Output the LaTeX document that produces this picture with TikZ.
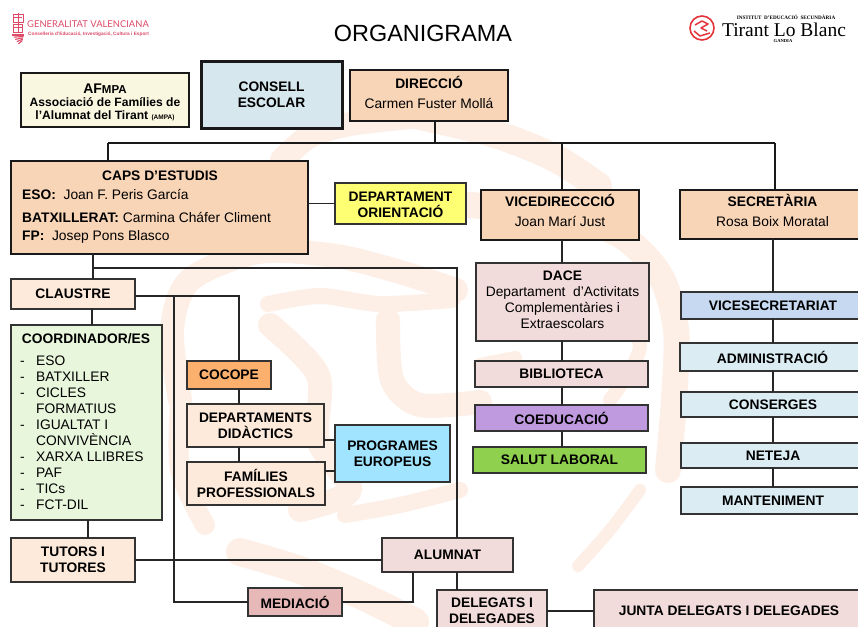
\documentclass[tikz,border=0pt]{standalone}
\usepackage{fontspec}
\setmainfont{Liberation Sans}
\newfontfamily\serifrm{Liberation Serif}
\newfontfamily\gvfont{Lato}
\definecolor{peach}{HTML}{F9D5B7}
\definecolor{cream}{HTML}{FDEADA}
\definecolor{rosa}{HTML}{F2DCDB}
\definecolor{ice}{HTML}{DBECF3}
\definecolor{wash}{HTML}{FDEEE6}
\definecolor{gvred}{HTML}{DD4B68}
\definecolor{logored}{HTML}{E5333B}
\definecolor{afcol}{HTML}{FAF7E0}
\definecolor{yelcol}{HTML}{FFFF73}
\definecolor{cocol}{HTML}{E8F6DC}
\definecolor{orcol}{HTML}{FBB06E}
\definecolor{eucol}{HTML}{A1E4FF}
\definecolor{mecol}{HTML}{E6B8B7}
\definecolor{coecol}{HTML}{C09ADE}
\definecolor{sacol}{HTML}{8FD14F}
\definecolor{vscol}{HTML}{C6D9F1}
\newcommand{\bt}[1]{{\bfseries #1}}
\newcommand{\dep}[1]{\rule[-#1pt]{0pt}{#1pt}}
\tikzset{
  wh/.style 2 args={minimum width=#1pt,minimum height=#2pt},
  box/.style={draw=black!80,line width=1.5pt,outer sep=0pt,inner sep=0pt,align=center,font=\fontsize{13.8}{16}\selectfont},
  heavybox/.style={box,draw=black!90,line width=2.8pt},
  conn/.style={draw=black!85,line width=1.7pt},
  heavyconn/.style={draw=black!90,line width=2.2pt},
  wmark/.style={draw=wash,line width=#1pt,line cap=round,line join=round},
  wmark/.default=22,
  plain/.style={inner sep=0pt,font=\fontsize{13.8}{16}\selectfont}
}
\begin{document}
\begin{tikzpicture}[x=1pt,y=-1pt]
\useasboundingbox (0,0) rectangle (858,626);
\clip (0,0) rectangle (858,626);
\fill[white] (0,0) rectangle (858,626);
\draw[wmark=24] plot[smooth] coordinates {(282,160) (310,136) (350,124) (420,116)};
\draw[wmark=28] plot[smooth] coordinates {(420,116) (495,134) (555,158) (598,186)};
\draw[wmark=26] plot[smooth] coordinates {(470,205) (560,215) (620,235) (660,275) (676,330) (674,400) (668,470)};
\draw[wmark=12] plot[smooth] coordinates {(640,490) (610,530) (578,566)};
\draw[wmark=24] plot[smooth] coordinates {(180,400) (172,330) (190,280) (258,252) (336,256) (400,272) (456,290)};
\draw[wmark=20] plot[smooth] coordinates {(180,400) (180,470) (205,525)};
\draw[wmark=28] plot[smooth] coordinates {(240,552) (300,570) (360,595) (415,622)};
\draw[wmark=16] plot[smooth] coordinates {(268,304) (320,296) (380,304) (452,300)};
\draw[wmark=24] plot[smooth] coordinates {(270,325) (318,375) (318,440) (350,490) (300,510)};
\draw[wmark=24] plot[smooth] coordinates {(388,320) (392,380) (420,405) (480,402)};
\draw[wmark=14] plot[smooth] coordinates {(480,365) (515,358)};
\draw[wmark=14] plot[smooth] coordinates {(600,300) (640,345) (610,400)};
\draw[wmark=16] plot[smooth] coordinates {(460,490) (400,505) (345,515)};
\draw[gvred,line width=.5pt] (13,14) rectangle (23,22);
\draw[gvred,line width=.5pt] (13.5,24) rectangle (22.5,32);
\draw[gvred,line width=1pt] (14,18)--(22,18) (14,28)--(22,28) (18,13)--(18,32);
\foreach \k in {0,1,2,3,4}
  \draw[gvred,line width=1.1pt] (12+\k*1.6,35+\k*2.2)--(24-\k*.4,35+\k*1.4);
\node[anchor=west,inner sep=0pt,text=gvred] (gvname) at (27,24.5) {\gvfont\fontsize{9.4}{10}\selectfont GENERALITAT VALENCIANA};
\node[anchor=west,inner sep=0pt,text=gvred] (gvconse) at (28,34.5) {\fontsize{4.75}{5}\selectfont\bfseries Conselleria d’Educació, Investigació, Cultura i Esport};
\node[inner sep=0pt] (titol) at (423,33.5) {\fontsize{23.4}{26}\selectfont ORGANIGRAMA};
\draw[logored,line width=1.6pt] (702,28) circle (12);
\draw[logored,line width=1.5pt,line join=round] (695,25)--(702,21)--(708,24)--(701,28)--(707,31) (694,31)--(700,36)--(710,33);
\node[inner sep=0pt] (instit) at (786,17) {\serifrm\fontsize{5.2}{6}\selectfont\bfseries INSTITUT\ \ D’EDUCACIÓ\ \ SECUNDÀRIA};
\node[inner sep=0pt] (tirant) at (784,30) {\serifrm\fontsize{19.5}{20}\selectfont Tirant Lo Blanc};
\node[inner sep=0pt] (gandia) at (783,41.5) {\serifrm\fontsize{4.6}{5}\selectfont\bfseries GANDIA};
\node[heavybox,line width=2.4pt,fill=afcol,wh={168}{54},font=\fontsize{12.1}{13.3}\selectfont] (afmpa) at (105,100) {\rule{0pt}{14pt}{\fontsize{14}{14}\selectfont\bfseries AF{\fontsize{11.5}{12}\selectfont MPA}}\\
  \bt{Associació de Famílies de}\\
  \bt{l’Alumnat del Tirant {\fontsize{6.5}{7}\selectfont(AMPA)}}};
\node[heavybox,line width=3pt,fill=ice!95!gray,wh={141}{67}] (consell) at (271.5,94.5) {\bt{CONSELL}\\\bt{ESCOLAR}};
\node[heavybox,fill=peach,wh={158}{51}] (direccio) at (429,95.5) {\bt{DIRECCIÓ}\\[4pt]Carmen Fuster Mollá\dep{7}};
\node[heavybox,fill=peach,wh={297}{93}] (caps) at (159.5,207.5) {};
\node[plain] (capstitol) at (160,175.5) {\bt{CAPS D’ESTUDIS}};
\node[plain,anchor=west] (capseso) at (22,194) {\bt{ESO:}\ \ Joan F. Peris García};
\node[plain,anchor=west] (capsbat) at (22,217) {\bt{BATXILLERAT:} Carmina Cháfer Climent};
\node[plain,anchor=west] (capsfp) at (22,237) {\bt{FP:}\ \ Josep Pons Blasco};
\node[box,fill=yelcol,wh={131}{41}] (orient) at (400.5,203.5) {\rule{0pt}{13pt}\bt{DEPARTAMENT}\\\bt{ORIENTACIÓ}};
\node[heavybox,fill=peach,wh={158}{50}] (vicedir) at (560,215) {\bt{VICEDIRECCCIÓ}\\[4pt]Joan Marí Just\dep{9}};
\node[heavybox,fill=peach,wh={185}{49}] (secret) at (772.5,214.5) {\bt{SECRETÀRIA}\\[4pt]Rosa Boix Moratal\dep{9}};
\node[box,fill=cream,wh={124}{30}] (claustre) at (73,294) {\bt{CLAUSTRE}};
\node[box,fill=cocol,wh={151}{195}] (coord) at (86.5,422.5) {};
\node[plain] (coordtitol) at (86,338.5) {\bt{COORDINADOR/ES}};
\node[plain,anchor=west,align=left] (coordllista) at (20,433) {\makebox[16pt][l]{-}ESO\\
  \makebox[16pt][l]{-}BATXILLER\\
  \makebox[16pt][l]{-}CICLES\\
  \makebox[16pt][l]{}FORMATIUS\\
  \makebox[16pt][l]{-}IGUALTAT I\\
  \makebox[16pt][l]{}CONVIVÈNCIA\\
  \makebox[16pt][l]{-}XARXA LLIBRES\\
  \makebox[16pt][l]{-}PAF\\
  \makebox[16pt][l]{-}TICs\\
  \makebox[16pt][l]{-}FCT-DIL};
\node[box,fill=cream,wh={124}{44}] (tutors) at (73,560) {\bt{TUTORS I}\\\bt{TUTORES}};
\node[box,fill=orcol,wh={84}{28}] (cocope) at (229,375) {\bt{COCOPE}};
\node[box,fill=cream,wh={137}{43}] (didact) at (255.5,425.5) {\bt{DEPARTAMENTS}\\\bt{DIDÀCTICS}};
\node[box,fill=cream,wh={138}{43}] (famil) at (256,483.5) {\bt{FAMÍLIES}\\\bt{PROFESSIONALS}};
\node[box,fill=eucol,wh={115}{57}] (europ) at (392.5,453.5) {\bt{PROGRAMES}\\\bt{EUROPEUS}};
\node[box,fill=mecol,wh={94}{28}] (mediacio) at (295,602) {\bt{MEDIACIÓ}};
\node[box,fill=rosa,wh={131}{34}] (alumnat) at (447.5,555) {\bt{ALUMNAT}};
\node[box,fill=rosa,wh={110}{42}] (delegats) at (492,611) {\bt{DELEGATS I}\\\bt{DELEGADES}};
\node[box,fill=rosa,wh={270}{42}] (junta) at (729,611) {\bt{JUNTA DELEGATS I DELEGADES}};
\node[box,fill=rosa,wh={173}{78}] (dace) at (562.5,302) {\bt{DACE}\\Departament\ \ d’Activitats\\Complementàries i\\Extraescolars\dep{5}};
\node[box,fill=rosa,wh={173}{26}] (bibl) at (561.5,374) {\bt{BIBLIOTECA}};
\node[box,fill=coecol,wh={173}{26}] (coedu) at (561.5,418) {\bt{COEDUCACIÓ}};
\node[box,fill=sacol,wh={173}{26}] (salut) at (559.5,460) {\bt{SALUT LABORAL}};
\node[box,fill=vscol,wh={184}{27}] (vicesec) at (773,305.5) {\bt{VICESECRETARIAT}};
\node[box,fill=ice,wh={185}{28}] (admin) at (772.5,357) {\bt{ADMINISTRACIÓ}};
\node[box,fill=ice,wh={184}{25}] (conser) at (773,404.5) {\bt{CONSERGES}};
\node[box,fill=ice,wh={184}{25}] (neteja) at (773,455.5) {\bt{NETEJA}};
\node[box,fill=ice,wh={184}{27}] (mant) at (773,500.5) {\bt{MANTENIMENT}};
\coordinate (jdir) at (435,143);
\coordinate (jcaps) at (108,143);
\coordinate (jvice) at (562,143);
\coordinate (jsec) at (775,143);
\draw[heavyconn] (jdir |- direccio.south)--(jdir) (jcaps)--(jsec)
(jcaps)--(jcaps |- caps.north)(jvice)--(jvice |- vicedir.north)(jsec)--(jsec |- secret.north);
\coordinate (jcl) at (93,268);
\coordinate (jal) at (457,268);
\coordinate (jdp) at (239,296);
\coordinate (jmd) at (174,296);
\coordinate (jmb) at (174,602);
\coordinate (jalb) at (413,602);
\coordinate (jcc) at (92,0);
\coordinate (jct) at (88,0);
\coordinate (jsc) at (773,0);
\coordinate (jpa) at (0,440);
\coordinate (jpb) at (0,471);
\draw[conn] (jcl |- caps.south)--(jcl |- claustre.north) (jcl)--(jal)--(jal |- alumnat.north);
\draw[conn] (claustre.east |- jdp)--(jdp)--(jdp |- cocope.north);
\draw[conn] (jdp |- cocope.south)--(jdp |- didact.north) (jdp |- didact.south)--(jdp |- famil.north);
\draw[conn] (jmd)--(jmb)--(mediacio.west);
\draw[conn] (mediacio.east)--(jalb)--(jalb |- alumnat.south);
\draw[conn] (jcc |- claustre.south)--(jcc |- coord.north) (jct |- coord.south)--(jct |- tutors.north);
\draw[conn] (tutors.east)--(alumnat.west |- tutors.east);
\draw[conn] (caps.east |- orient.west)--(orient.west);
\draw[conn] (didact.east |- jpa)--(europ.west |- jpa) (famil.east |- jpb)--(europ.west |- jpb);
\draw[conn] (jvice |- vicedir.south)--(jvice |- dace.north) (jvice |- dace.south)--(jvice |- bibl.north)
(jvice |- bibl.south)--(jvice |- coedu.north) (jvice |- coedu.south)--(jvice |- salut.north);
\draw[conn] (jsc |- secret.south)--(jsc |- vicesec.north) (jsc |- vicesec.south)--(jsc |- admin.north) (jsc |- admin.south)--(jsc |- conser.north)
(jsc |- conser.south)--(jsc |- neteja.north) (jsc |- neteja.south)--(jsc |- mant.north);
\draw[conn] (jal |- alumnat.south)--(jal |- delegats.north);
\draw[conn] (delegats.east)--(junta.west);
\end{tikzpicture}
\end{document}
